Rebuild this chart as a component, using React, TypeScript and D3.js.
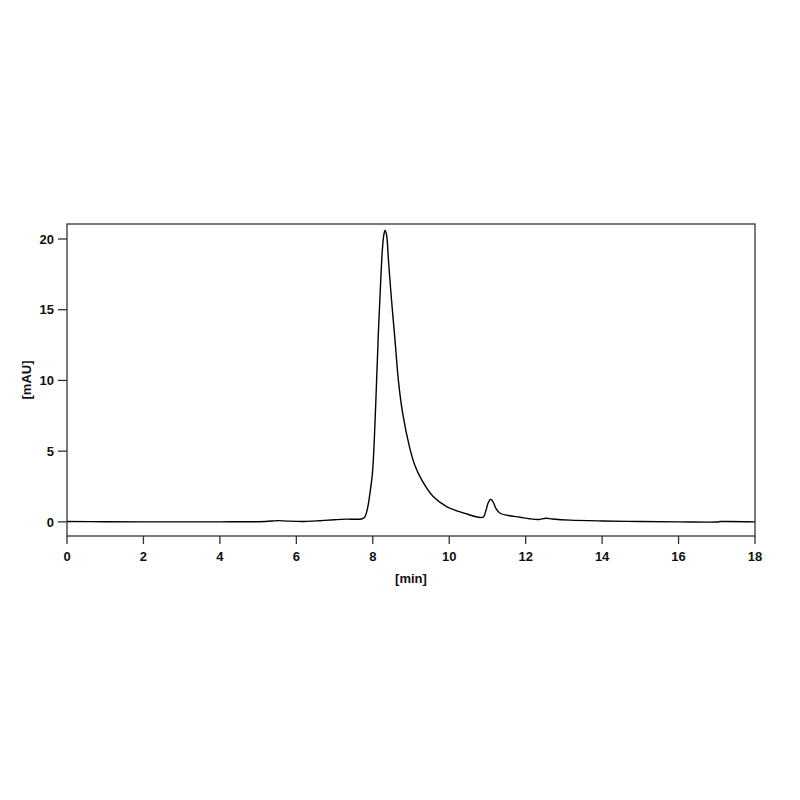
import React from "react";
import * as d3 from "d3";

const times: number[] = [
  0, 1, 2, 3, 4, 4.5, 5.2, 5.5, 5.8, 6.2, 6.6, 7.0, 7.3, 7.7, 7.78, 7.83, 7.88, 7.94, 7.99, 8.04, 8.1,
  8.15, 8.2, 8.25, 8.29, 8.32, 8.36, 8.41, 8.49, 8.58, 8.67, 8.78, 8.96, 9.1, 9.28, 9.58, 9.93,
  10.2, 10.41, 10.65, 10.82, 10.9, 10.96, 11.02, 11.08, 11.15, 11.22, 11.33, 11.55, 11.85, 12.1,
  12.33, 12.53, 12.7, 13.16, 14.0, 15.0, 16.0, 17.0, 17.1, 18.0,
];
const values: number[] = [
  0.02, 0.01, 0.0, 0.0, 0.0, 0.01, 0.02, 0.09, 0.05, 0.03, 0.08, 0.15, 0.19, 0.2, 0.3, 0.6, 1.2, 2.3, 3.4, 5.8, 10.0,
  13.6, 16.6, 19.2, 20.3, 20.6, 20.3, 18.5, 15.7, 12.9, 10.0, 7.7, 5.3, 4.0, 2.97, 1.79, 1.08,
  0.78, 0.6, 0.4, 0.31, 0.36, 0.8, 1.35, 1.6, 1.4, 0.95, 0.61, 0.45, 0.33, 0.22,
  0.17, 0.25, 0.2, 0.12, 0.06, 0.02, 0.0, -0.01, 0.02, 0.0,
];
const xTicks: number[] = [0, 2, 4, 6, 8, 10, 12, 14, 16, 18];
const yTicks: number[] = [0, 5, 10, 15, 20];
const xLabel = "[min]";
const yLabel = "[mAU]";

export default function App() {
  const left = 67, right = 755, top = 224, bottom = 536;
  const x = d3.scaleLinear().domain([0, 18]).range([left, right]);
  const y = d3.scaleLinear().domain([-1, 21.06]).range([bottom, top]);
  const pts: [number, number][] = times.map((t, i) => [t, values[i]]);
  const line = d3
    .line<[number, number]>()
    .x((d) => x(d[0]))
    .y((d) => y(d[1]))
    .curve(d3.curveCatmullRom.alpha(0.5));
  const font = "'Liberation Sans', Arial, sans-serif";
  return (
    <svg width={800} height={800} style={{ position: "absolute", left: 0, top: 0, background: "#fff" }}>
      <defs>
        <clipPath id="plotclip">
          <rect x={left} y={top} width={right - left} height={bottom - top} />
        </clipPath>
      </defs>
      <path d={line(pts) || ""} fill="none" stroke="#000" strokeWidth={1.4} clipPath="url(#plotclip)" />
      <rect x={left} y={top} width={right - left} height={bottom - top} fill="none" stroke="#333" strokeWidth={1.3} />
      {xTicks.map((t) => (
        <g key={"x" + t}>
          <line x1={x(t)} x2={x(t)} y1={bottom} y2={bottom + 8} stroke="#333" strokeWidth={1.3} />
          <text x={x(t)} y={bottom + 25} textAnchor="middle" fontFamily={font} fontWeight="bold" fontSize={13} fill="#111">
            {t}
          </text>
        </g>
      ))}
      {yTicks.map((t) => (
        <g key={"y" + t}>
          <line x1={left - 9} x2={left} y1={y(t)} y2={y(t)} stroke="#333" strokeWidth={1.3} />
          <text x={left - 13} y={y(t) + 4.7} textAnchor="end" fontFamily={font} fontWeight="bold" fontSize={13} fill="#111">
            {t}
          </text>
        </g>
      ))}
      <text x={411} y={583} textAnchor="middle" fontFamily={font} fontWeight="bold" fontSize={13} fill="#111">
        {xLabel}
      </text>
      <text
        transform={`translate(31, ${(top + bottom) / 2}) rotate(-90)`}
        textAnchor="middle"
        fontFamily={font}
        fontWeight="bold"
        fontSize={13}
        fill="#111"
      >
        {yLabel}
      </text>
    </svg>
  );
}
